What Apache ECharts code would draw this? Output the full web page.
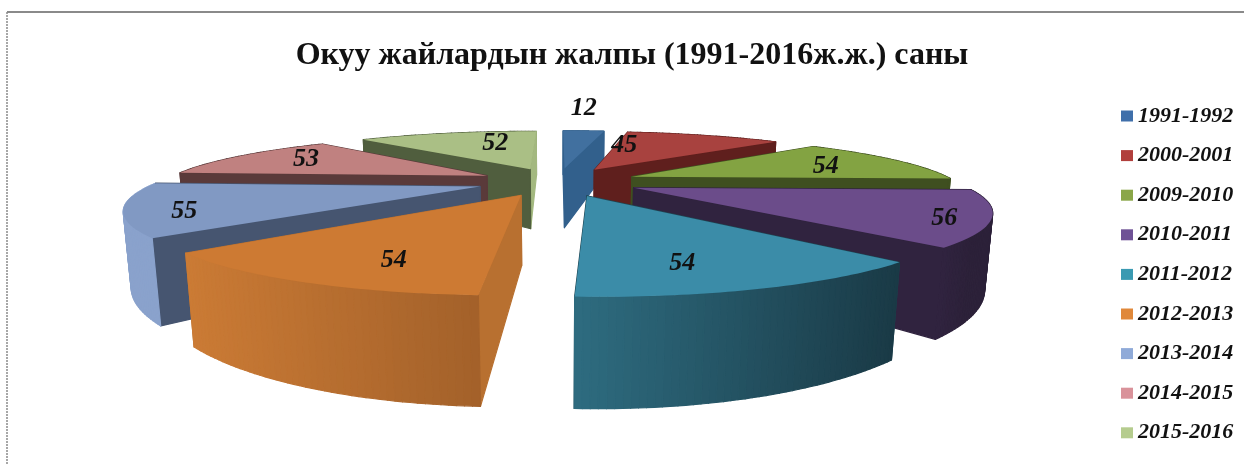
<!DOCTYPE html>
<html>
<head>
<meta charset="utf-8">
<style>
  html, body { margin: 0; padding: 0; background: #fff; }
  #chart { width: 1244px; height: 464px; }
</style>
<script src="https://cdn.jsdelivr.net/npm/echarts@6/dist/echarts.min.js"></script>
</head>
<body>
<div id="chart"></div>
<script>
let titleText = "Окуу жайлардын жалпы (1991-2016ж.ж.) саны";
let years = ["1991-1992", "2000-2001", "2009-2010", "2010-2011", "2011-2012", "2012-2013", "2013-2014", "2014-2015", "2015-2016"];
let counts = [12, 45, 54, 56, 54, 54, 55, 53, 52];

// slice colours: top face, the two cut faces, rim (left and right end of the shading)
let topColors = ["#41709f", "#a8423f", "#83a342", "#6b4c8a", "#3b8ca8", "#cd7a33", "#8199c3", "#c08180", "#aabf85"];
let cutStart = ["#32608c", "#5f1f1d", "#3f4f20", "#30233f", "#1f4653", "#b87030", "#465570", "#5a3a3a", "#505e3e"];
let cutEnd = ["#32608c", "#5f1f1d", "#3f4f20", "#30233f", "#1f4653", "#b87030", "#465570", "#5a3a3a", "#a3b87f"];
let rimLeft = ["#32608c", "#5f1f1d", "#3f4f20", "#30233f", "#2e6c80", "#cb7b35", "#8aa2cc", "#5a3a3a", "#505e3e"];
let rimRight = ["#32608c", "#5f1f1d", "#3f4f20", "#2c2139", "#1a3a46", "#a3612a", "#8aa2cc", "#5a3a3a", "#505e3e"];
let legendColors = ["#3f6faa", "#b13f3c", "#8aa648", "#6f5296", "#3a9ab2", "#e0883a", "#8faad8", "#d9929a", "#b5cc8e"];

// where each number sits on its slice (fraction of radius, turn from the middle of the slice)
let labelRadius = [1.92, 0.59, 0.7, 0.89, 0.78, 0.78, 0.85, 0.735, 0.65];
let labelTurn = [-1.7, -15.5, 3, 4, 5.5, -6, -6, 2, 8];

// perspective of the pie plane, fitted to the picture
let centerX = 558;
let horizonY = 3;
let spreadX = 404;
let spreadY = 178.5;
let tiltX = 0.37;
let tiltY = 0.397;
let radius = 0.8;
let explode = 0.2;
// height of the pie on screen grows with distance from this line
let depthK = 0.41;
let depthBase = 24;
let vanishY = 4400;

let total = counts.reduce(function(a, b) { return a + b; }, 0);

function project(x, y) {
  return [centerX + spreadX * x / (1 - tiltX * y), horizonY + spreadY / (1 - tiltY * y)];
}

function drop(p) {
  let d = depthK * (p[1] - depthBase);
  return [p[0] + (centerX - p[0]) * d / (vanishY - p[1]), p[1] + d];
}

function onPlane(cx, cy, r, deg) {
  let a = deg * Math.PI / 180;
  return [cx + r * Math.sin(a), cy - r * Math.cos(a)];
}

function sliceAngles(index) {
  let before = 0;
  for (let i = 0; i < index; i++) before += counts[i];
  return [before / total * 360, (before + counts[index]) / total * 360];
}

function planeCenter(index) {
  let a = sliceAngles(index);
  return onPlane(0, 0, explode, (a[0] + a[1]) / 2);
}

function renderSlice(index) {
  return function(params, api) {
    let start = sliceAngles(index)[0];
    let end = start + api.value(0) / total * 360;
    let c = planeCenter(index);
    let apex = project(c[0], c[1]);
    let arc = [];
    let arcY = [];
    let steps = 48;
    for (let i = 0; i <= steps; i++) {
      let q = onPlane(c[0], c[1], radius, start + (end - start) * i / steps);
      arcY.push(q[1]);
      arc.push(project(q[0], q[1]));
    }
    let first = arc[0];
    let last = arc[steps];
    let walls = [];
    walls.push({ y: (c[1] + arcY[0]) / 2, points: [apex, first, drop(first), drop(apex)], fill: cutStart[index] });
    walls.push({ y: (c[1] + arcY[steps]) / 2, points: [apex, last, drop(last), drop(apex)], fill: cutEnd[index] });

    // rim as narrow strips, shaded from its left end to its right end
    let leftX = Math.min(first[0], last[0]);
    let rightX = Math.max(first[0], last[0]);
    for (let i = 0; i < steps; i++) {
      let mid = ((arc[i][0] + arc[i + 1][0]) / 2 - leftX) / Math.max(1, rightX - leftX);
      walls.push({
        y: (arcY[i] + arcY[i + 1]) / 2,
        points: [arc[i], arc[i + 1], drop(arc[i + 1]), drop(arc[i])],
        fill: echarts.color.lerp(Math.min(1, Math.max(0, mid)), [rimLeft[index], rimRight[index]])
      });
    }
    walls.sort(function(a, b) { return a.y - b.y; });

    let children = walls.map(function(w) {
      return { type: "polygon", shape: { points: w.points }, style: { fill: w.fill, stroke: w.fill, lineWidth: 1.2, lineJoin: "round" } };
    });
    children.push({ type: "polygon", shape: { points: [apex].concat(arc) }, style: { fill: topColors[index] } });

    let q = onPlane(c[0], c[1], radius * labelRadius[index], (start + end) / 2 + labelTurn[index]);
    let at = project(q[0], q[1]);
    children.push({
      type: "text",
      x: at[0],
      y: at[1],
      style: {
        text: String(api.value(0)),
        fill: "#111",
        font: "italic bold 26px 'Liberation Serif'",
        align: "center",
        verticalAlign: "middle"
      }
    });
    return { type: "group", children: children };
  };
}

// back slices first, front slices drawn over them
let drawOrder = years.map(function(y, i) { return i; }).sort(function(a, b) {
  return planeCenter(a)[1] - planeCenter(b)[1];
});

let series = drawOrder.map(function(index, order) {
  return {
    type: "custom",
    name: years[index],
    coordinateSystem: "none",
    z: 2 + order,
    silent: true,
    itemStyle: { color: legendColors[index] },
    data: [[counts[index]]],
    renderItem: renderSlice(index)
  };
});

let myChart = echarts.init(document.getElementById("chart"));
myChart.setOption({
  animation: false,
  backgroundColor: "#fff",
  title: {
    text: titleText,
    left: 627,
    top: 35,
    textAlign: "center",
    textStyle: { fontFamily: "Liberation Serif", fontWeight: "bold", fontSize: 32, color: "#111" }
  },
  legend: {
    data: years,
    orient: "vertical",
    left: 1116,
    top: 100,
    icon: "rect",
    itemWidth: 12,
    itemHeight: 11,
    itemGap: 17.6,
    selectedMode: false,
    textStyle: { fontFamily: "Liberation Serif", fontStyle: "italic", fontWeight: "bold", fontSize: 22, color: "#111" }
  },
  graphic: [
    {
      type: "line",
      silent: true,
      shape: { x1: 7, y1: 12, x2: 1244, y2: 12 },
      style: { stroke: "#8a8a8a", lineWidth: 2 }
    },
    {
      type: "line",
      silent: true,
      shape: { x1: 7, y1: 12, x2: 7, y2: 464 },
      style: { stroke: "#8a8a8a", lineWidth: 1.5, lineDash: [2, 1] }
    }
  ],
  series: series
});
</script>
</body>
</html>
